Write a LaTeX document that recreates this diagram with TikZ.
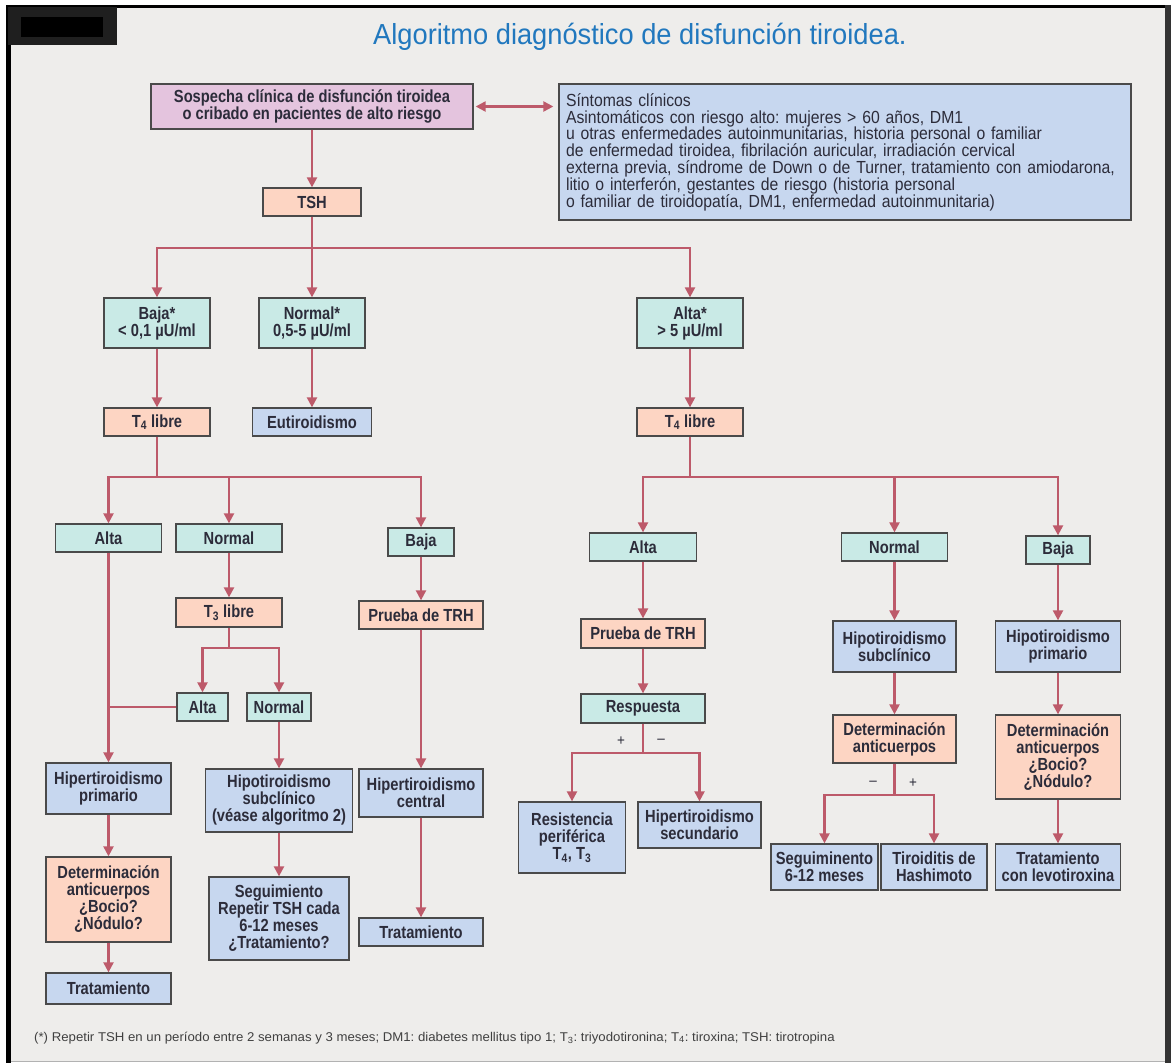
\documentclass[tikz,border=0pt]{standalone}
\usepackage{fontspec}
\usetikzlibrary{arrows.meta}
\setmainfont{Liberation Sans}
\frenchspacing
\newfontfamily\cnd[FakeStretch=0.84]{Liberation Sans}
\newfontfamily\cndr[FakeStretch=0.9]{Liberation Sans}
\newfontfamily\ttlf[FakeStretch=0.94]{Liberation Sans}
\newfontfamily\ftf[FakeStretch=1.04]{Liberation Sans}
\definecolor{bg}{HTML}{EEEDEB}
\definecolor{cteal}{HTML}{C9EAE6}
\definecolor{corange}{HTML}{FDD5C3}
\definecolor{cblue}{HTML}{C7D7EF}
\definecolor{cpurple}{HTML}{E4C4DE}
\definecolor{arrc}{HTML}{BD5A6A}
\definecolor{boxline}{HTML}{4A4A4A}
\definecolor{txt}{HTML}{2C2C3A}
\definecolor{titleblue}{HTML}{2178BE}
\tikzset{
  bx/.style={draw=boxline, line width=1.3pt, inner sep=1pt, align=center, text=txt,
    font=\cnd\fontsize{17.5}{17}\selectfont\bfseries},
  tbox/.style={bx, fill=cteal},
  obox/.style={bx, fill=corange},
  bbox/.style={bx, fill=cblue},
  pbox/.style={bx, fill=cpurple},
  ln/.style={draw=arrc, line width=2.2pt},
  arr/.style={ln, -{Triangle[length=10pt,width=10pt]}},
  lbl/.style={text=txt, font=\cndr\fontsize{15}{15}\selectfont, inner sep=0pt}
}
\begin{document}
\begin{tikzpicture}[x=1pt,y=-1pt]
\useasboundingbox (0,0) rectangle (1171,1063);
\fill[white] (0,0) rectangle (1171,1063);
\fill[bg] (8,5) rectangle (1167,1061);
% frame
\fill[black] (6,5) rectangle (11,1063);
\fill[black] (6,5) rectangle (1168,8);
\fill[black!80] (1165,5) rectangle (1171,1063);
\draw[black!30, line width=1pt] (11,1061) -- (1165,1061);
\fill[black!88] (8,7) rectangle (117,45);
\fill[black] (21,17) rectangle (103,37);
% title
\node[anchor=base west, text=titleblue, inner sep=0pt, font=\ttlf\fontsize{29}{30}\selectfont] (title) at (373,44) {Algoritmo diagnóstico de disfunción tiroidea.};

% top
\node[pbox, minimum width=322pt, minimum height=45pt] (sosp) at (312,106.5) {Sospecha clínica de disfunción tiroidea\\o cribado en pacientes de alto riesgo};
\node[bbox, minimum width=572pt, minimum height=136pt, text width=558pt, align=left, inner xsep=7pt,
  font=\cndr\fontsize{17.5}{16.8}\selectfont] (sint) at (845,152) {Síntomas clínicos\\Asintomáticos con riesgo alto: mujeres > 60 años, DM1\\u otras enfermedades autoinmunitarias, historia personal o familiar\\de enfermedad tiroidea, fibrilación auricular, irradiación cervical\\externa previa, síndrome de Down o de Turner, tratamiento con amiodarona,\\litio o interferón, gestantes de riesgo (historia personal\\o familiar de tiroidopatía, DM1, enfermedad autoinmunitaria)};
\node[obox, minimum width=98pt, minimum height=28pt] (tsh) at (312,202) {TSH};

\node[tbox, minimum width=106pt, minimum height=50pt] (bajaS) at (157,323) {Baja*\\< 0,1 µU/ml};
\node[tbox, minimum width=106pt, minimum height=50pt] (normS) at (312,323) {Normal*\\0,5-5 µU/ml};
\node[tbox, minimum width=106pt, minimum height=50pt] (altaS) at (690,323) {Alta*\\> 5 µU/ml};

\node[obox, minimum width=106pt, minimum height=28pt] (t4L) at (157,422) {T\textsubscript{4} libre};
\node[bbox, minimum width=119pt, minimum height=28pt] (eut) at (312,422) {Eutiroidismo};
\node[obox, minimum width=106pt, minimum height=28pt] (t4R) at (690,422) {T\textsubscript{4} libre};

% left subtree
\node[tbox, minimum width=106pt, minimum height=28pt] (altaL) at (108.5,538) {Alta};
\node[tbox, minimum width=106pt, minimum height=28pt] (normL) at (229,538) {Normal};
\node[tbox, minimum width=66pt, minimum height=28pt] (bajaL) at (421,542) {Baja};
\node[obox, minimum width=106pt, minimum height=29pt] (t3) at (229,612.5) {T\textsubscript{3} libre};
\node[obox, minimum width=124pt, minimum height=28pt] (prTRHL) at (421,615) {Prueba de TRH};
\node[tbox, minimum width=51pt, minimum height=28pt] (altaT3) at (202.5,707) {Alta};
\node[tbox, minimum width=64pt, minimum height=28pt] (normT3) at (279,707) {Normal};
\node[bbox, minimum width=125pt, minimum height=51pt] (hiperPrim) at (108.5,788.5) {Hipertiroidismo\\primario};
\node[obox, minimum width=125pt, minimum height=85pt] (detL) at (108.5,899.5) {Determinación\\anticuerpos\\¿Bocio?\\¿Nódulo?};
\node[bbox, minimum width=125pt, minimum height=31pt] (tratL) at (108.5,988.5) {Tratamiento};
\node[bbox, minimum width=147pt, minimum height=63pt] (hipoSubL) at (279,800.5) {Hipotiroidismo\\subclínico\\(véase algoritmo 2)};
\node[bbox, minimum width=140pt, minimum height=83pt] (seguL) at (279,918.5) {Seguimiento\\Repetir TSH cada\\6-12 meses\\¿Tratamiento?};
\node[bbox, minimum width=124pt, minimum height=48pt] (hiperCen) at (421,793) {Hipertiroidismo\\central};
\node[bbox, minimum width=124pt, minimum height=28pt] (tratC) at (421,932) {Tratamiento};

% right subtree
\node[tbox, minimum width=107pt, minimum height=28pt] (altaR) at (643,547) {Alta};
\node[tbox, minimum width=106pt, minimum height=28pt] (normR) at (894.5,547) {Normal};
\node[tbox, minimum width=64pt, minimum height=28pt] (bajaR) at (1058,550) {Baja};
\node[obox, minimum width=124pt, minimum height=29pt] (prTRHR) at (643,633.5) {Prueba de TRH};
\node[tbox, minimum width=124pt, minimum height=29pt] (resp) at (643,708.5) {Respuesta};
\node[bbox, minimum width=123pt, minimum height=51pt] (hipoSubR) at (894.5,646.5) {Hipotiroidismo\\subclínico};
\node[bbox, minimum width=125pt, minimum height=51pt] (hipoPrim) at (1058,646.5) {Hipotiroidismo\\primario};
\node[obox, minimum width=123pt, minimum height=48pt] (detM) at (894.5,739) {Determinación\\anticuerpos};
\node[obox, minimum width=125pt, minimum height=84pt] (detR) at (1058,757) {Determinación\\anticuerpos\\¿Bocio?\\¿Nódulo?};
\node[bbox, minimum width=107pt, minimum height=71pt] (resist) at (572,837.5) {Resistencia\\periférica\\T\textsubscript{4}, T\textsubscript{3}};
\node[bbox, minimum width=123pt, minimum height=46pt] (hiperSec) at (699.5,825) {Hipertiroidismo\\secundario};
\node[bbox, minimum width=107pt, minimum height=46pt] (seguR) at (824.5,867) {Seguiminento\\6-12 meses};
\node[bbox, minimum width=106pt, minimum height=46pt] (hashi) at (934,867) {Tiroiditis de\\Hashimoto};
\node[bbox, minimum width=125pt, minimum height=46pt] (levo) at (1058,867) {Tratamiento\\con levotiroxina};

% connectors
\draw[ln, {Triangle[length=10pt,width=10pt]}-{Triangle[length=10pt,width=10pt]}, shorten <=2pt, shorten >=5pt] (sosp.east) -- (sosp.east -| sint.west);
\draw[arr] (sosp) -- (tsh);
\coordinate (s1) at (312,248);
\draw[ln] (tsh) -- (s1);
\draw[arr] (s1) -| (bajaS);
\draw[arr] (s1) -- (normS);
\draw[arr] (s1) -| (altaS);
\draw[arr] (bajaS) -- (t4L);
\draw[arr] (normS) -- (eut);
\draw[arr] (altaS) -- (t4R);

\coordinate (s2) at (157,477);
\draw[ln] (t4L) -- (s2);
\draw[arr] (s2) -| (altaL);
\draw[arr] (s2) -| (normL);
\draw[arr] (s2) -| (bajaL);
\draw[arr] (altaL) -- (hiperPrim);
\draw[arr] (normL) -- (t3);
\coordinate (s3) at (229,648);
\draw[ln] (t3) -- (s3);
\draw[arr] (s3) -| (altaT3);
\draw[arr] (s3) -| (normT3);
\draw[ln] (altaT3.west) -- (altaT3.west -| altaL.south);
\draw[arr] (normT3) -- (hipoSubL);
\draw[arr] (hipoSubL) -- (seguL);
\draw[arr] (bajaL) -- (prTRHL);
\draw[arr] (prTRHL) -- (hiperCen);
\draw[arr] (hiperCen) -- (tratC);
\draw[arr] (hiperPrim) -- (detL);
\draw[arr] (detL) -- (tratL);

\coordinate (s4) at (690,477);
\draw[ln] (t4R) -- (s4);
\draw[arr] (s4) -| (altaR);
\draw[arr] (s4) -| (normR);
\draw[arr] (s4) -| (bajaR);
\draw[arr] (altaR) -- (prTRHR);
\draw[arr] (prTRHR) -- (resp);
\coordinate (s5) at (643,753);
\draw[ln] (resp) -- (s5);
\draw[arr] (s5) -| (resist);
\draw[arr] (s5) -| (hiperSec);
\node[lbl] (plusA) at (621,741) {+};
\node[lbl] (minusA) at (661,741) {–};
\draw[arr] (normR) -- (hipoSubR);
\draw[arr] (hipoSubR) -- (detM);
\coordinate (s6) at (894.5,795);
\draw[ln] (detM) -- (s6);
\draw[arr] (s6) -| (seguR);
\draw[arr] (s6) -| (hashi);
\node[lbl] (minusB) at (873,783) {–};
\node[lbl] (plusB) at (913,783) {+};
\draw[arr] (bajaR) -- (hipoPrim);
\draw[arr] (hipoPrim) -- (detR);
\draw[arr] (detR) -- (levo);

% footnote
\node[anchor=base west, inner sep=0pt, text=black!75, font=\ftf\fontsize{12.7}{13}\selectfont] (foot) at (34,1041) {(*) Repetir TSH en un período entre 2 semanas y 3 meses; DM1: diabetes mellitus tipo 1; T\textsubscript{3}: triyodotironina; T\textsubscript{4}: tiroxina; TSH: tirotropina};
\end{tikzpicture}
\end{document}
